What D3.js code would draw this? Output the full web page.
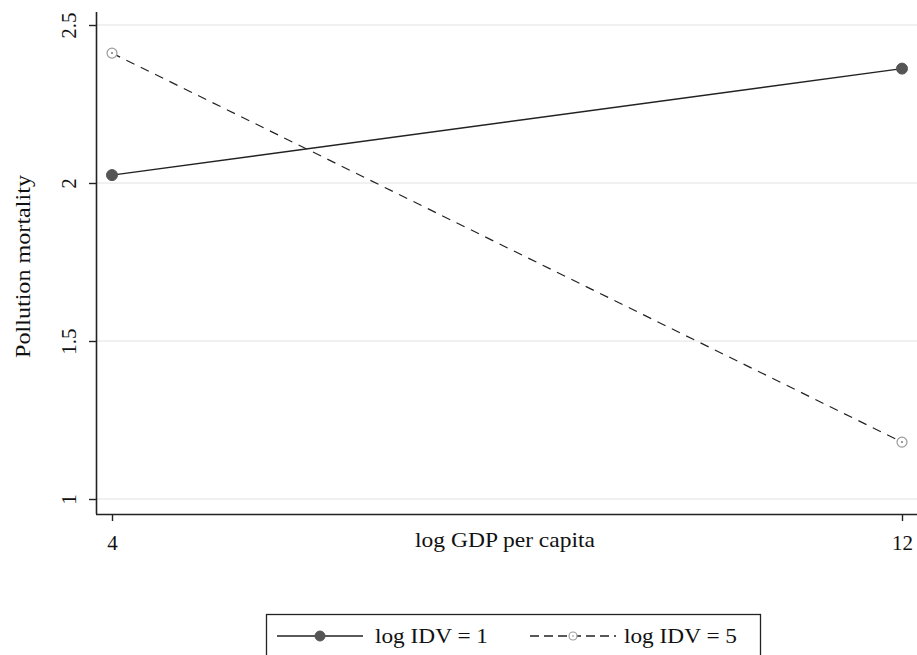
<!DOCTYPE html>
<html>
<head>
<meta charset="utf-8">
<script src="https://cdn.jsdelivr.net/npm/d3@7"></script>
<style>
  body { margin: 0; background: #fff; }
  svg { display: block; }
  text { font-family: "Liberation Serif", "DejaVu Serif", serif; fill: #111; }
</style>
</head>
<body>
<svg id="chart" width="917" height="655"></svg>
<script>
// Predicted pollution mortality at two levels of log GDP per capita
const gdpLevels = [4, 12];
const seriesNames = ["log IDV = 1", "log IDV = 5"];
const idvLow = [2.025, 2.362];
const idvHigh = [2.411, 1.180];
const yTicks = [1, 1.5, 2, 2.5];
const xTicks = [4, 12];

const svg = d3.select("#chart");

const x = d3.scaleLinear().domain([4, 12]).range([112, 902]);
const y = d3.scaleLinear().domain([1, 2.5]).range([499, 25]);
const plotLeft = 96, plotRight = 917, plotBottom = 514;

// Gridlines
svg.append("g").selectAll("line").data(yTicks).join("line")
  .attr("x1", plotLeft).attr("x2", plotRight)
  .attr("y1", d => y(d)).attr("y2", d => y(d))
  .attr("stroke", "#e2e2e2").attr("stroke-width", 1);

// Y axis with rotated tick labels
const yAxis = svg.append("g").attr("transform", `translate(${plotLeft},0)`)
  .call(d3.axisLeft(y).tickValues(yTicks).tickFormat(d3.format("")).tickSize(7));
yAxis.select(".domain").attr("d", `M0.5,12V${plotBottom}`).attr("stroke", "#222").attr("stroke-width", 1.6);
yAxis.selectAll(".tick line").attr("stroke", "#222").attr("stroke-width", 1.4);
yAxis.selectAll(".tick text")
  .attr("font-size", 21)
  .attr("text-anchor", "middle")
  .attr("x", null).attr("y", null).attr("dy", null)
  .attr("transform", "translate(-20,0) rotate(-90)");

// X axis
const xAxis = svg.append("g").attr("transform", `translate(0,${plotBottom})`)
  .call(d3.axisBottom(x).tickValues(xTicks).tickFormat(d3.format("d")).tickSize(7));
xAxis.select(".domain").attr("d", `M${plotLeft},0.5H${plotRight}`).attr("stroke", "#222").attr("stroke-width", 1.6);
xAxis.selectAll(".tick line").attr("stroke", "#222").attr("stroke-width", 1.4);
xAxis.selectAll(".tick text").attr("font-size", 21).attr("y", 36).attr("dy", null);

// Axis titles
svg.append("text")
  .attr("x", 415).attr("y", 547)
  .attr("font-size", 22)
  .attr("textLength", 180).attr("lengthAdjust", "spacingAndGlyphs")
  .text("log GDP per capita");
svg.append("text")
  .attr("transform", `translate(30,358) rotate(-90)`)
  .attr("font-size", 22)
  .attr("textLength", 183).attr("lengthAdjust", "spacingAndGlyphs")
  .text("Pollution mortality");

// Lines
const line = d3.line().x(d => x(d[0])).y(d => y(d[1]));
const lowPts = gdpLevels.map((g, i) => [g, idvLow[i]]);
const highPts = gdpLevels.map((g, i) => [g, idvHigh[i]]);

svg.append("path").datum(lowPts).attr("d", line)
  .attr("fill", "none").attr("stroke", "#222").attr("stroke-width", 1.4);
svg.append("path").datum(highPts).attr("d", line)
  .attr("fill", "none").attr("stroke", "#222").attr("stroke-width", 1.2)
  .attr("stroke-dasharray", "9,7");

// Filled markers (log IDV = 1)
svg.append("g").selectAll("circle").data(lowPts).join("circle")
  .attr("cx", d => x(d[0])).attr("cy", d => y(d[1])).attr("r", 5.5)
  .attr("fill", "#555").attr("stroke", "#555");

// Hollow markers with centre dot (log IDV = 5)
const hollow = svg.append("g").selectAll("g").data(highPts).join("g")
  .attr("transform", d => `translate(${x(d[0])},${y(d[1])})`);
hollow.append("circle").attr("r", 5)
  .attr("fill", "#fff").attr("stroke", "#999").attr("stroke-width", 1.2);
hollow.append("circle").attr("r", 1).attr("fill", "#777");

// Legend
const lg = svg.append("g");
lg.append("rect").attr("x", 266.5).attr("y", 614.5).attr("width", 494).attr("height", 50)
  .attr("fill", "#fff").attr("stroke", "#222").attr("stroke-width", 1.3);
const legendItems = [
  { name: seriesNames[0], x0: 277, x1: 363, dash: null, filled: true, tx: 375 },
  { name: seriesNames[1], x0: 530, x1: 616, dash: "9,5", filled: false, tx: 624 }
];
const ly = 636;
legendItems.forEach(it => {
  const cx = (it.x0 + it.x1) / 2;
  lg.append("line").attr("x1", it.x0).attr("x2", it.x1).attr("y1", ly).attr("y2", ly)
    .attr("stroke", "#222").attr("stroke-width", 1.3)
    .attr("stroke-dasharray", it.dash);
  if (it.filled) {
    lg.append("circle").attr("cx", cx).attr("cy", ly).attr("r", 5)
      .attr("fill", "#555").attr("stroke", "#555");
  } else {
    lg.append("circle").attr("cx", cx).attr("cy", ly).attr("r", 4)
      .attr("fill", "#fff").attr("stroke", "#999").attr("stroke-width", 1.1);
    lg.append("circle").attr("cx", cx).attr("cy", ly).attr("r", 0.8).attr("fill", "#888");
  }
  lg.append("text").attr("x", it.tx).attr("y", 643)
    .attr("font-size", 21)
    .attr("textLength", 113).attr("lengthAdjust", "spacingAndGlyphs")
    .text(it.name);
});
</script>
</body>
</html>
